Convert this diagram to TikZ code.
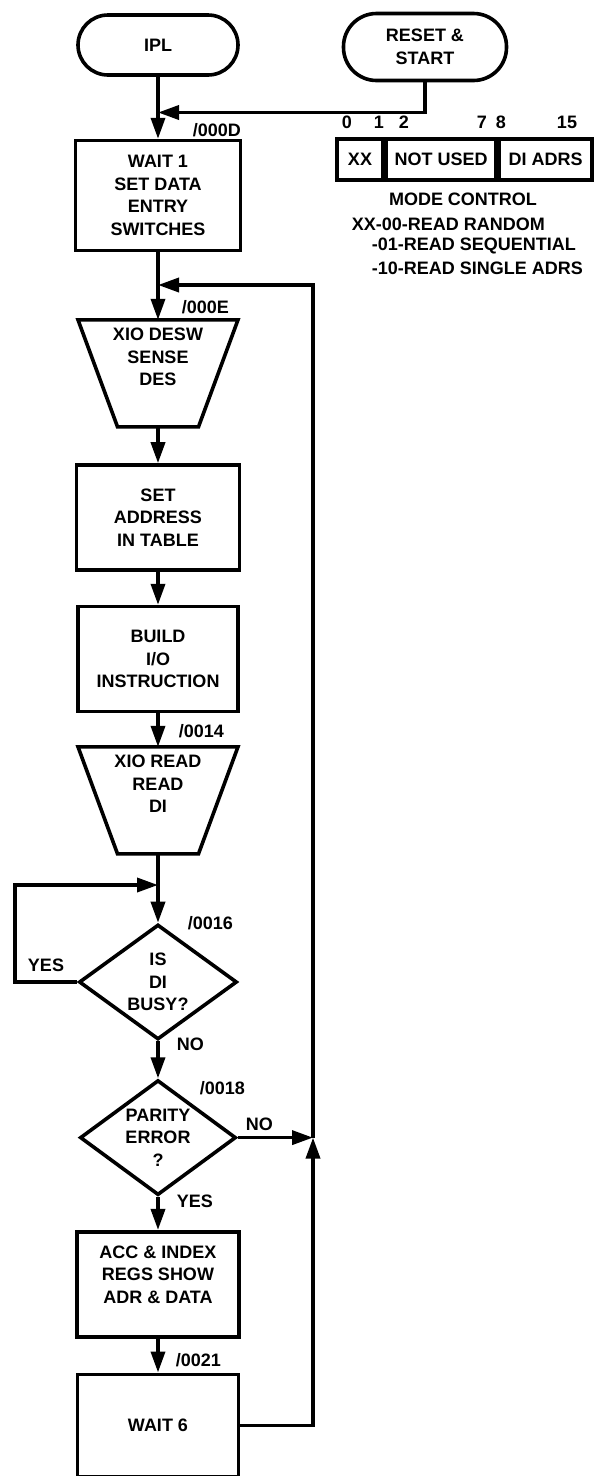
\documentclass[tikz,border=0pt]{standalone}
\usepackage{fontspec}
\setmainfont{Liberation Sans}
\usetikzlibrary{arrows.meta,positioning,shapes.geometric}

\begin{document}
\begin{tikzpicture}[
	x = 1pt, y = -1pt, % one unit per pixel, y grows downwards
	> = {Triangle[length=21pt,width=14pt]}, % arrow head style
	line width = 3.6pt, % line style
	font = \bfseries\fontsize{18}{22.5}\selectfont
	]
	
	\tikzstyle{terminal}=[
	draw,
	align = center,
	minimum width = 160pt,
	inner sep = 0pt
	]
	\tikzstyle{procbox}=[draw, align=center, minimum width=163pt, minimum height=105pt, inner sep=0pt]
	\tikzstyle{trapbox}=[align=center, minimum width=160pt, minimum height=107pt, inner sep=0pt, outer sep=0pt]
	\tikzstyle{decision}=[draw, diamond, aspect=1.38, minimum width=158pt, minimum height=115pt, inner sep=0pt, align=center]
	\tikzstyle{regcell}=[draw, minimum height=41pt, inner sep=0pt]
	\tikzstyle{adrs}=[anchor=west, inner sep=0pt]
	
	\useasboundingbox (0,0) rectangle (611,1476);
	
	\node[terminal, minimum height=60pt, rounded corners=30pt] (ipl) at (158,45) {IPL};
	\node[terminal, minimum width=163pt, minimum height=67pt, rounded corners=33pt] (reset) at (425,47) {RESET \&\\START};
	\node[procbox, minimum width=165pt, minimum height=110pt] (wait1) [below=62pt of ipl] {WAIT 1\\SET DATA\\ENTRY\\SWITCHES};
	\node[trapbox] (desw) [below=67.4pt of wait1] {XIO DESW\\SENSE\\DES\\[10pt]\mbox{}};
	\node[procbox] (setadr) [below=36.4pt of desw] {SET\\ADDRESS\\IN TABLE};
	\node[procbox, minimum width=160pt] (build) [below=33pt of setadr] {BUILD\\I/O\\INSTRUCTION};
	\node[trapbox] (readdi) [below=33.4pt of build] {XIO READ\\READ\\DI\\[10pt]\mbox{}};
	\node[decision] (busy) [below=68.9pt of readdi] {IS\\DI\\BUSY?};
	\node[decision, minimum width=156pt] (parity) [below=37pt of busy] {PARITY\\ERROR\\?};
	\node[procbox, minimum width=162pt] (acc) [below=33pt of parity] {ACC \& INDEX\\REGS SHOW\\ADR \& DATA\\[-2.5pt]\mbox{}};
	\node[procbox, minimum width=161pt, minimum height=102pt] (wait6) [below=34pt of acc] {WAIT 6};
	
	% trapezium outlines
	\draw (desw.north west) -- (desw.north east) -- ([xshift=-39.5pt]desw.south east) -- ([xshift=39.5pt]desw.south west) -- cycle;
	\draw (readdi.north west) -- (readdi.north east) -- ([xshift=-39.5pt]readdi.south east) -- ([xshift=39.5pt]readdi.south west) -- cycle;
	
	% mode control word
	\node[regcell, minimum width=46pt] (xx) at (360,159.5) {XX};
	\node[regcell, minimum width=109pt] (notused) [right=0pt of xx] {NOT USED};
	\node[regcell, minimum width=93pt] (diadrs) [right=0pt of notused] {DI ADRS};
	\node (bit0) at (347,122) {0};
	\node (bit1) at (379,122) {1};
	\node (bit2) at (404,122) {2};
	\node (bit7) at (482,122) {7};
	\node (bit8) at (501,122) {8};
	\node (bit15) at (567,122) {15};
	\node (modectl) at (463,199) {MODE CONTROL};
	\node[adrs] (mode00) at (350,224) {XX-00-READ RANDOM};
	\node[adrs] (mode01) at (370,246) {-01-READ SEQUENTIAL};
	\node[adrs] (mode10) at (370,268) {-10-READ SINGLE ADRS};
	
	% addresses and branch labels
	\node[adrs] (lab000d) at (191,130) {/000D};
	\node[adrs] (lab000e) at (180,307) {/000E};
	\node[adrs] (lab0014) at (177,731) {/0014};
	\node[adrs] (lab0016) at (186,923) {/0016};
	\node[adrs] (lab0018) at (198,1088) {/0018};
	\node[adrs] (lab0021) at (174,1360) {/0021};
	\node (yesbusy) at (46,965) {YES};
	\node[adrs] (nobusy) at (175,1044) {NO};
	\node[adrs] (noparity) at (244,1124) {NO};
	\node[adrs] (yesparity) at (175,1201) {YES};
	
	\coordinate (j1) at (158,112.5);
	\coordinate (retc) at (313,285);
	\coordinate (j2) at (wait1.south |- retc);
	\coordinate (j3) at (parity.east -| retc);
	\coordinate (j4) at (158,885);
	\coordinate (loopc) at (15,885);
	
	\draw[->] (ipl) -- (wait1);
	\draw[->] (reset.south) |- (j1);
	\draw[->] (wait1) -- (desw);
	\draw[->] (desw) -- (setadr);
	\draw[->] (setadr) -- (build);
	\draw[->] (build) -- (readdi);
	\draw[->] (readdi) -- (busy);
	\draw[->] (busy.west) -| (loopc) -- (j4);
	\draw[->] (busy) -- (parity);
	\draw[->] (parity) -- (acc);
	\draw[->] (acc) -- (wait6);
	\draw[->] (parity.east) -- (j3);
	\draw[->] (wait6.east) -| (j3);
	\draw[->] (j3) |- (j2);
	
\end{tikzpicture}
\end{document}
